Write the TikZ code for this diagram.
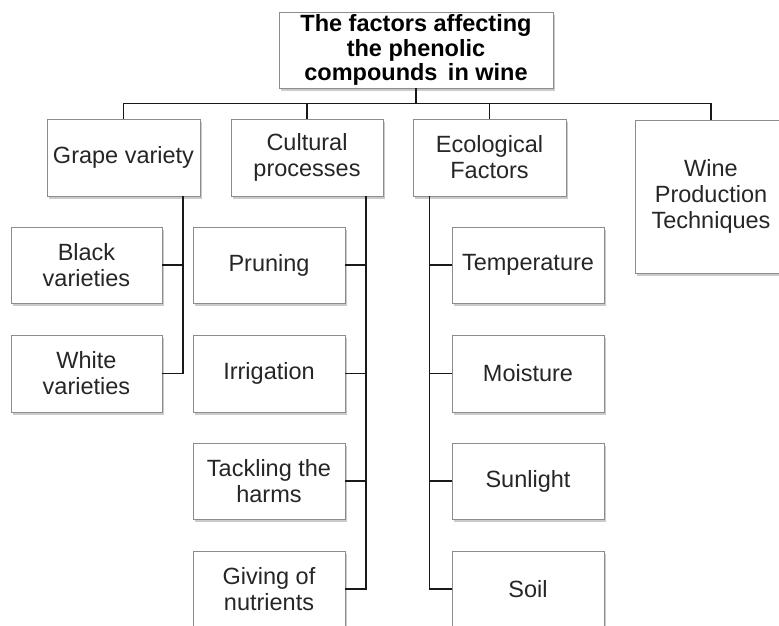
\documentclass[tikz,border=0pt]{standalone}
\usepackage{fontspec}
\setmainfont{Liberation Sans}
\usetikzlibrary{shadows}
\begin{document}
\begin{tikzpicture}[x=1pt,y=-1pt,
  box/.style={draw=black!45,line width=0.8pt,fill=white,rectangle,inner sep=1pt,
    align=center,font=\fontsize{23.5}{26}\selectfont,text=black!85,
    drop shadow={shadow xshift=2pt,shadow yshift=-3pt,opacity=0.45,fill=black!45}},
  titlebox/.style={box,font=\fontsize{23.5}{24.5}\selectfont\bfseries,text=black},
  conn/.style={draw=black!90,line width=1.8pt}]
\useasboundingbox (0,0) rectangle (779,625);
% top
\node[titlebox,minimum width=274pt,minimum height=76pt] (top) at (416,50) {The factors affecting\\the phenolic\\compounds\, in wine};
% level 1
\node[box,minimum width=153pt,minimum height=77pt] (grape) at (123.5,157.5) {Grape variety};
\node[box,minimum width=152pt,minimum height=77pt] (cult) at (307,157.5) {Cultural\\processes};
\node[box,minimum width=153pt,minimum height=77pt] (eco) at (489.5,157.5) {Ecological\\Factors};
\node[box,minimum width=152pt,minimum height=153pt] (wine) at (711,196.5) {Wine\\Production\\Techniques};
% grape children
\node[box,minimum width=151pt,minimum height=76pt] (black) at (86.5,265) {Black\\varieties};
\node[box,minimum width=151pt,minimum height=77pt] (white) at (86.5,373.5) {White\\varieties};
% cultural children
\node[box,minimum width=152pt,minimum height=76pt] (prun) at (269,265) {Pruning};
\node[box,minimum width=152pt,minimum height=77pt] (irr) at (269,373.5) {Irrigation};
\node[box,minimum width=152pt,minimum height=76pt] (tack) at (269,481) {Tackling the\\harms};
\node[box,minimum width=152pt,minimum height=76pt] (give) at (269,589) {Giving of\\nutrients};
% ecological children
\node[box,minimum width=152pt,minimum height=76pt] (temp) at (528,265) {Temperature};
\node[box,minimum width=152pt,minimum height=77pt] (moist) at (528,373.5) {Moisture};
\node[box,minimum width=152pt,minimum height=76pt] (sun) at (528,481) {Sunlight};
\node[box,minimum width=152pt,minimum height=76pt] (soil) at (528,589) {Soil};
% bus
\coordinate (bus) at (416,103.5);
\draw[conn] (top.south) -- (bus);
\draw[conn] (grape.north) |- (bus) -| (wine.north);
\draw[conn] (cult.north) -- (cult.north |- bus);
\draw[conn] (eco.north) -- (eco.north |- bus);
% grape branch
\coordinate (gtop) at (183,196);
\draw[conn] (gtop) |- (white.east);
\draw[conn] (black.east) -- (gtop |- black.east);
% cultural branch
\coordinate (ctop) at (366,195.5);
\draw[conn] (ctop) |- (give.east);
\foreach \n in {prun,irr,tack} \draw[conn] (\n.east) -- (ctop |- \n.east);
% ecological branch
\coordinate (etop) at (429.5,195.5);
\draw[conn] (etop) |- (soil.west);
\foreach \n in {temp,moist,sun} \draw[conn] (\n.west) -- (etop |- \n.west);
\end{tikzpicture}
\end{document}
